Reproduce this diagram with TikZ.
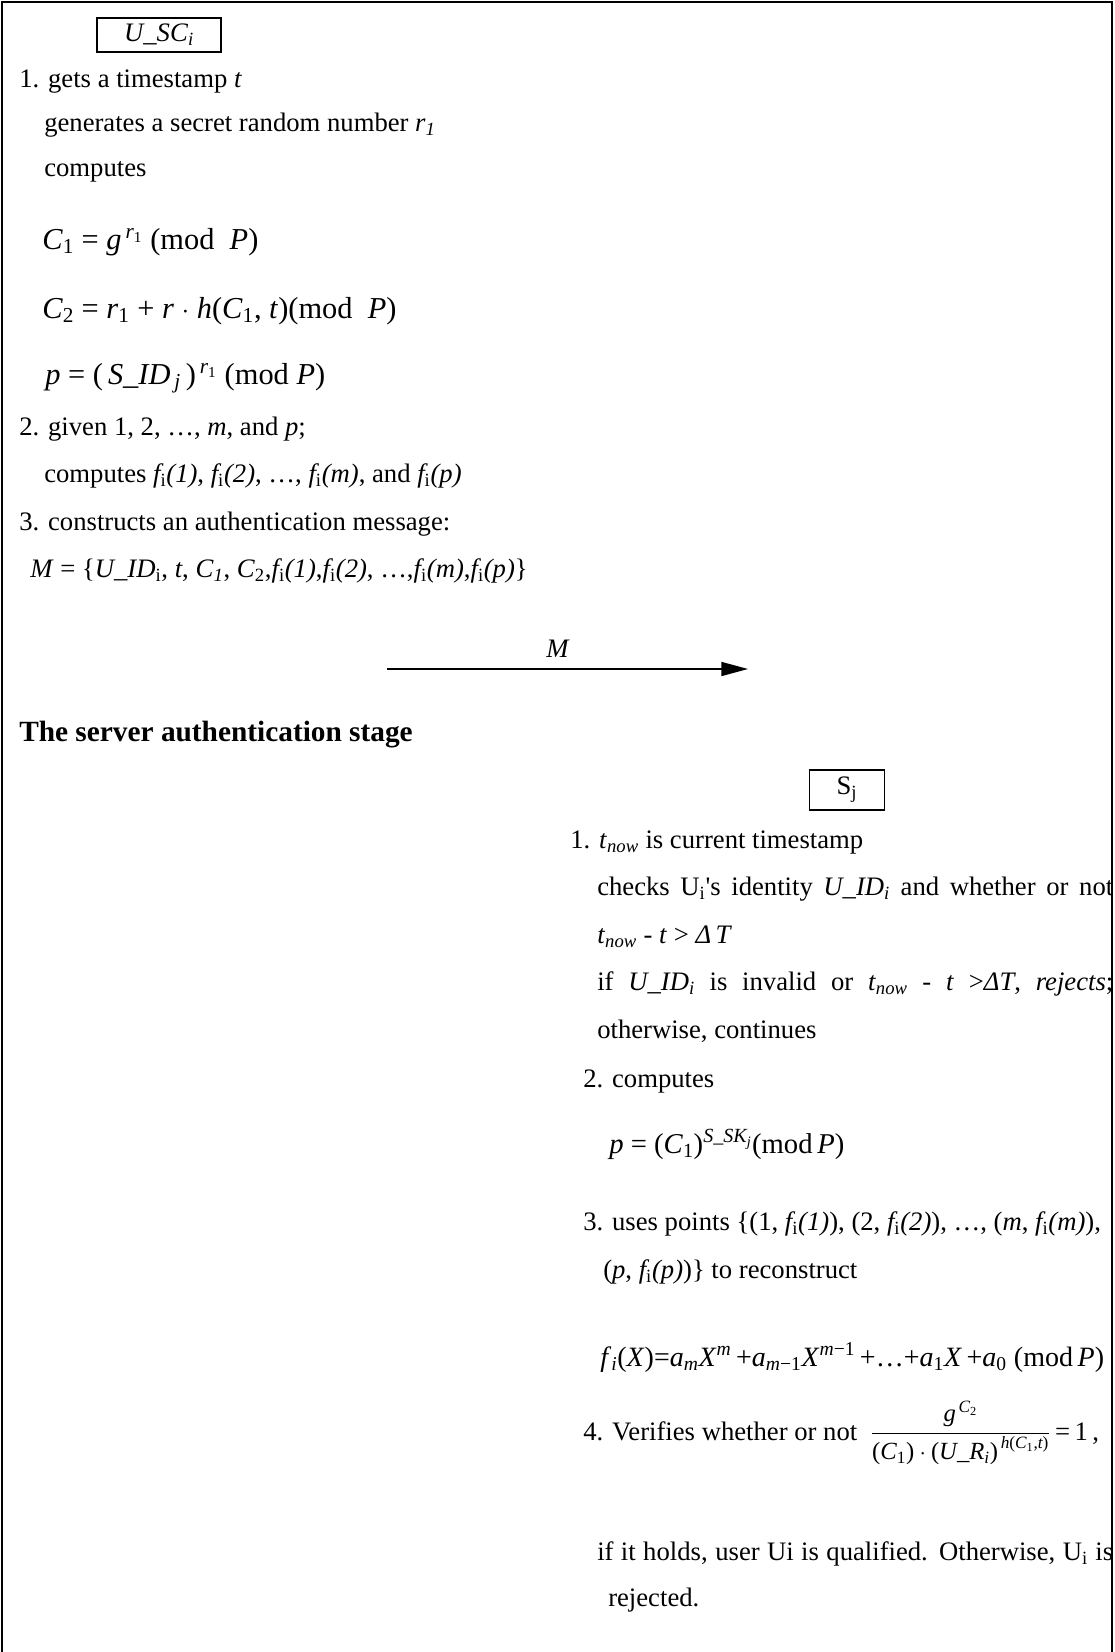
\documentclass[tikz,border=0pt]{standalone}
\usepackage{amsmath}
\usepackage{amssymb}
\usepackage{fontspec}
\setmainfont{Liberation Serif}
\usetikzlibrary{arrows.meta}

\newcommand{\tv}[1]{\textit{#1}}
\newcommand{\tu}[1]{\textup{#1}}
\newcommand{\fnv}[1]{{\itshape f}\textsubscript{i}{\itshape (#1)}}
\newcommand{\fszL}{\fontsize{22.8}{26}\selectfont}
\newcommand{\fsz}{\fontsize{21.5}{24}\selectfont}
\newcommand{\fszfr}{\fontsize{18.5}{21}\selectfont}
\newlength{\rw}\setlength{\rw}{387pt}

\begin{document}
\begin{tikzpicture}[x=0.75pt,y=0.75pt,yscale=-1,xscale=1,
  font=\fontsize{20}{24}\selectfont,
  txt/.style={anchor=base west,inner sep=0,align=left},
  idbox/.style={draw,line width=1,inner sep=0}]
%set diagram size
\path [use as bounding box] (0,0) rectangle (1114,1652);
%Frame
\draw [line width=1.5] (2,1652) -- (2,2) -- (1112,2) -- (1112,1652) ;

% Box
\draw (159,35) node [idbox,minimum width=93pt,minimum height=25.5pt] (usc) {\tv{U\_SC}\textsubscript{\tv{i}}};
% Text Node
\draw (19,88) node [txt] (l1) {1. gets a timestamp \tv{t}};
% Text Node
\draw (44,131) node [txt] (l2) {generates a secret random number \tv{r}\textsubscript{\tv{1}}};
% Text Node
\draw (44,176) node [txt] (l3) {computes};
% Text Node
\draw (42,249) node [txt] (l4) {\fszL \tv{C}$_{\tu{1}}$ = \tv{g}$^{\,\tv{r}_{\tu{1}}}$ (mod~~\tv{P})};
% Text Node
\draw (42,318) node [txt] (l5) {\fszL \tv{C}$_{\tu{2}}$ = \tv{r}$_{\tu{1}}$ + \tv{r} $\cdot$ \tv{h}(\tv{C}$_{\tu{1}}$,\ \tv{t})(mod~~\tv{P})};
% Text Node
\draw (45,384) node [txt] (l6) {\fszL \tv{p} = (\,\tv{S}\_\tv{ID}$_{\,\tv{j}}$\,)$^{\,\tv{r}_{\tu{1}}}$ (mod~\tv{P})};
% Text Node
\draw (19,435) node [txt] (l7) {2. given 1, 2, …, \tv{m}, and \tv{p};};
% Text Node
\draw (44,482) node [txt] (l8) {computes \fnv{1}, \fnv{2}, …, \fnv{m}, and \fnv{p}};
% Text Node
\draw (19,530) node [txt] (l9) {3. constructs an authentication message:};
% Text Node
\draw (30,577) node [txt] (l10) {\tv{M} = \{\tv{U\_ID}\textsubscript{i}, \tv{t}, \tv{C}\textsubscript{\tv{1}}, \tv{C}\textsubscript{2},\fnv{1},\fnv{2}, …,\fnv{m},\fnv{p}\}};

%Straight Lines
\coordinate (msgL) at (387,669);
\coordinate (msgR) at (748,669);
\draw [line width=1.2,-{Triangle[length=20pt,width=10.5pt]}] (msgL) -- (msgR) ;
% Text Node
\draw (558,657) node [txt,anchor=base] (mlbl) {\tv{M}};

% Text Node
\draw (19,741) node [txt] (hdr) {\fontsize{22}{26}\selectfont\bfseries The server authentication stage};

% Box
\draw (847,790) node [idbox,minimum width=56pt,minimum height=30pt] (sj) {S\textsubscript{j}};
% Text Node
\draw (570,848) node [txt] (r1) {1. \tv{t}\textsubscript{\tv{now}} is current timestamp};
% Text Node
\draw (597,895) node [txt] (r2) {\makebox[\rw][s]{checks U\textsubscript{i}\textquotesingle s identity \tv{U\_ID}\textsubscript{\tv{i}} and whether or not}};
% Text Node
\draw (597,943) node [txt] (r3) {\tv{t}\textsubscript{\tv{now}} - \tv{t} > \tv{Δ\,T}};
% Text Node
\draw (597,990) node [txt] (r4) {\makebox[\rw][s]{if \tv{U\_ID}\textsubscript{\tv{i}} is invalid or \tv{t}\textsubscript{\tv{now}} - \tv{t} >\tv{ΔT}, \tv{rejects};}};
% Text Node
\draw (597,1038) node [txt] (r5) {otherwise, continues};
% Text Node
\draw (583,1087) node [txt] (r6) {2. computes};
% Text Node
\draw (609,1153) node [txt] (r7) {\fsz \tv{p} = (\tv{C}$_{\tu{1}}$)$^{\tv{S\_SK}_{\tv{j}}}$(mod\,\tv{P})};
% Text Node
\draw (583,1230) node [txt] (r8) {3. uses points \{(1, \fnv{1}), (2, \fnv{2}), …, (\tv{m}, \fnv{m}),};
% Text Node
\draw (603,1278) node [txt] (r9) {(\tv{p}, \fnv{p})\} to reconstruct};
% Text Node
\draw (600,1366) node [txt] (r10) {\fontsize{21}{24}\selectfont \tv{f}$_{\tv{i}}$(\tv{X})=\tv{a}$_{\tv{m}}$\tv{X}$^{\tv{m}}$\,+\tv{a}$_{\tv{m}\tu{−1}}$\tv{X}$^{\tv{m}\tu{−1}}$\,+…+\tv{a}$_{\tu{1}}$\tv{X}\,+\tv{a}$_{\tu{0}}$ (mod\,\tv{P})};
% Text Node
\draw (583,1440) node [txt] (r11) {4. Verifies whether or not \ $\dfrac{\hbox{\fszfr$\tv{g}^{\,\tv{C}_{\tu{2}}}$}}{\hbox{\fszfr$\tu{(}\tv{C}_{\tu{1}}\tu{)}\cdot\tu{(}\tv{U\_R}_{\tv{i}}\tu{)}^{\,\tv{h}\tu{(}\tv{C}_{\tu{1}}\tu{,}\tv{t}\tu{)}}$}}$\,=\,1\,,};
% Text Node
\draw (597,1560) node [txt] (r12) {\makebox[\rw][s]{if it holds, user Ui is qualified. Otherwise, U\textsubscript{i} is}};
% Text Node
\draw (608,1606) node [txt] (r13) {rejected.};
\end{tikzpicture}
\end{document}
